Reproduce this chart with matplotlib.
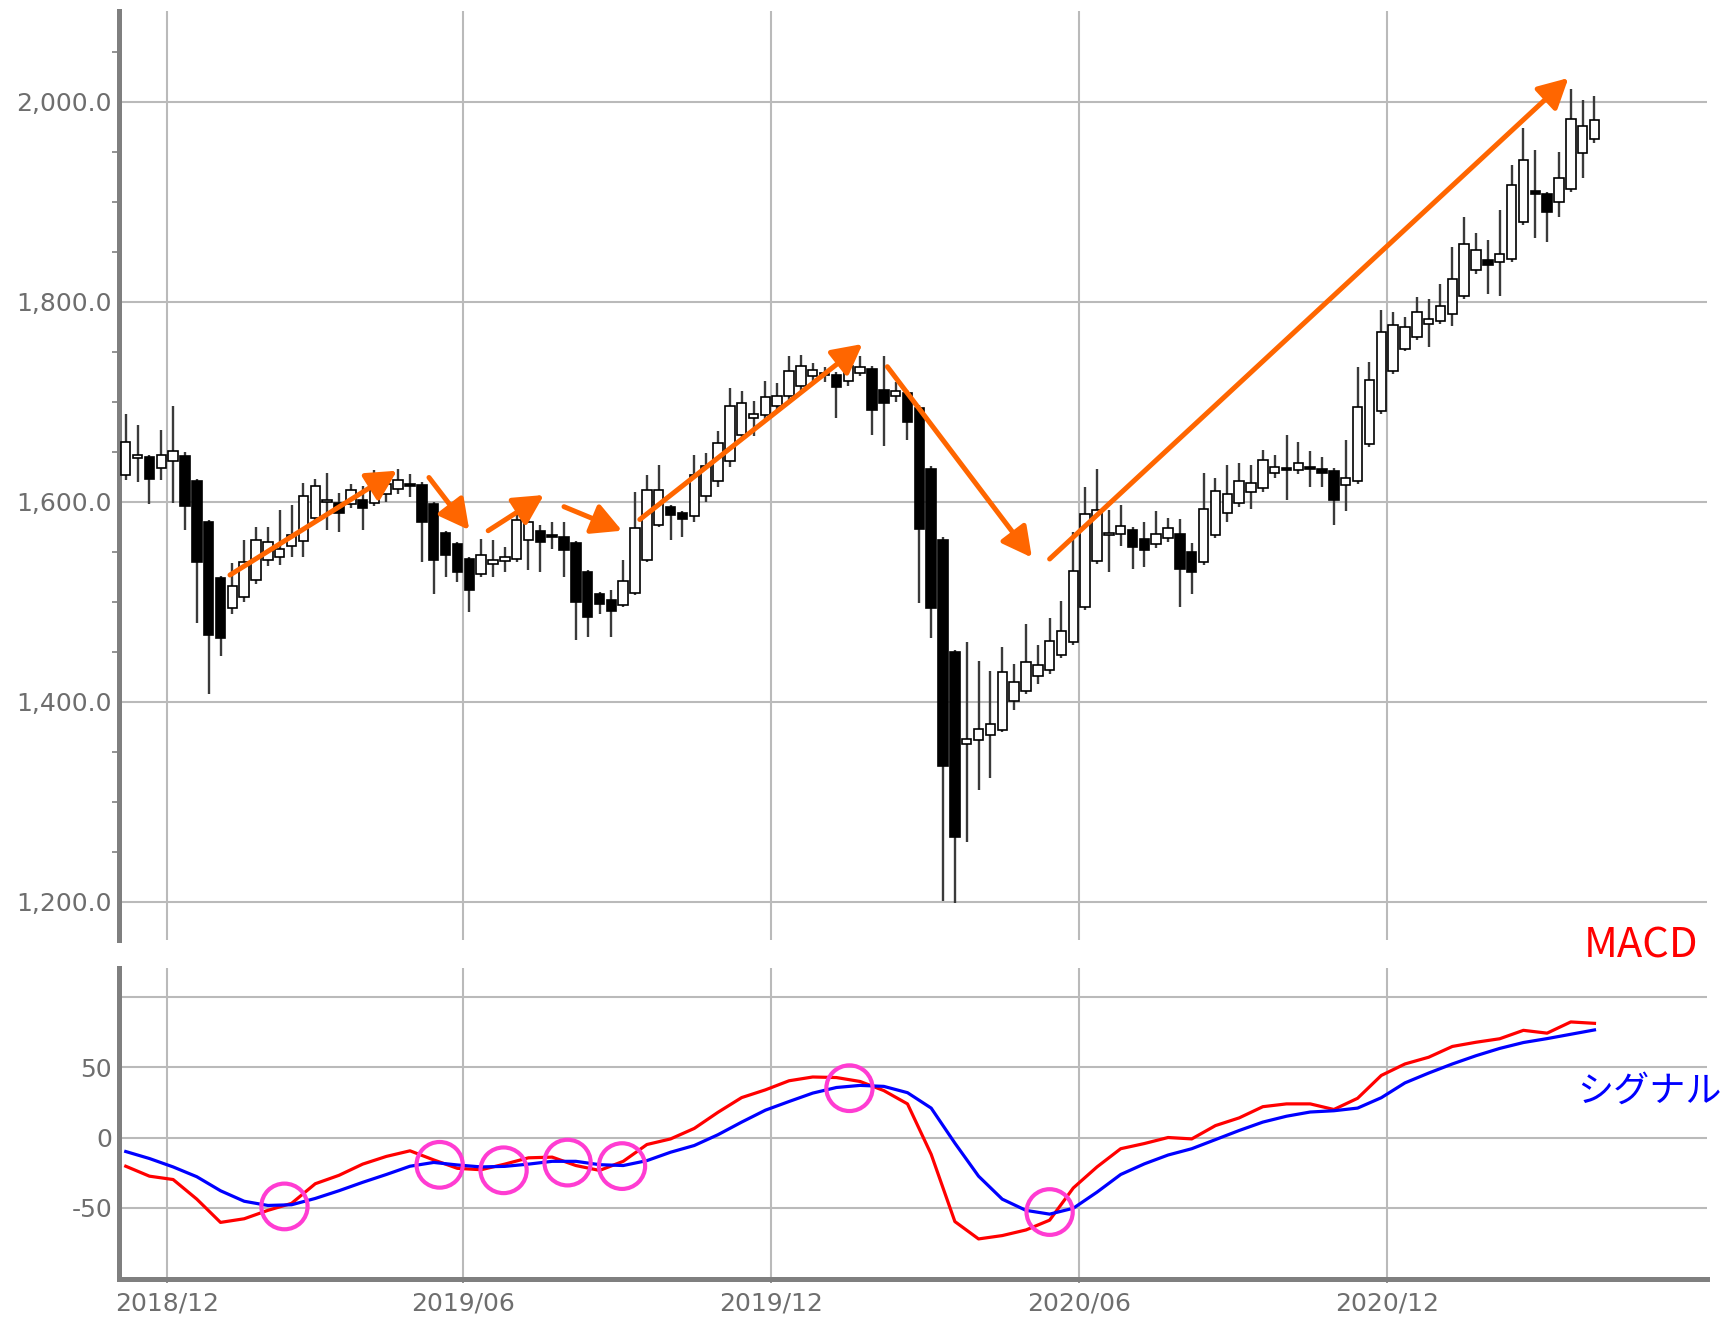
import numpy as np
import pandas as pd
import matplotlib
matplotlib.use('Agg')
import matplotlib.pyplot as plt
from matplotlib.patches import Ellipse

# weekly bars (Friday of each week); Golden Week 2019 had no trading days
weeks = pd.date_range('2018-11-09', periods=126, freq='W-FRI')
weeks = weeks.drop(pd.Timestamp('2019-05-03'))

opens = [1627, 1644, 1645, 1634, 1641, 1646, 1621, 1580, 1524, 1494,
         1505, 1522, 1542, 1545, 1556, 1561, 1584, 1600, 1599, 1598,
         1602, 1599, 1608, 1613, 1617, 1617, 1598, 1569, 1558, 1543,
         1528, 1538, 1541, 1543, 1562, 1571, 1566, 1565, 1559, 1530,
         1508, 1502, 1497, 1509, 1542, 1577, 1595, 1589, 1586, 1606,
         1621, 1641, 1667, 1684, 1687, 1696, 1706, 1716, 1726, 1729,
         1727, 1721, 1729, 1733, 1712, 1706, 1709, 1694, 1633, 1562,
         1450, 1358, 1362, 1367, 1372, 1401, 1411, 1426, 1432, 1447,
         1460, 1495, 1541, 1567, 1568, 1572, 1563, 1558, 1564, 1568,
         1550, 1540, 1567, 1589, 1599, 1610, 1614, 1629, 1633, 1632,
         1635, 1633, 1631, 1617, 1621, 1658, 1691, 1731, 1753, 1765,
         1778, 1781, 1788, 1806, 1832, 1842, 1840, 1843, 1880, 1911,
         1908, 1900, 1913, 1949, 1963]
highs = [1688, 1677, 1647, 1672, 1696, 1650, 1623, 1582, 1526, 1539,
         1562, 1575, 1575, 1592, 1597, 1619, 1623, 1629, 1609, 1618,
         1616, 1632, 1628, 1633, 1628, 1620, 1600, 1571, 1560, 1545,
         1563, 1562, 1555, 1593, 1585, 1577, 1580, 1580, 1561, 1532,
         1510, 1512, 1542, 1610, 1627, 1637, 1597, 1591, 1647, 1649,
         1671, 1714, 1711, 1701, 1721, 1719, 1746, 1747, 1739, 1735,
         1730, 1742, 1746, 1736, 1746, 1720, 1712, 1697, 1636, 1565,
         1452, 1460, 1441, 1431, 1455, 1438, 1478, 1457, 1484, 1501,
         1570, 1615, 1633, 1592, 1597, 1575, 1580, 1591, 1584, 1583,
         1559, 1629, 1624, 1637, 1639, 1637, 1652, 1647, 1667, 1660,
         1651, 1645, 1634, 1662, 1735, 1740, 1792, 1790, 1785, 1805,
         1803, 1818, 1855, 1885, 1869, 1862, 1892, 1937, 1974, 1952,
         1910, 1950, 2013, 2002, 2006]
lows = [1622, 1620, 1598, 1622, 1599, 1572, 1479, 1408, 1446, 1488,
        1500, 1518, 1536, 1537, 1545, 1545, 1580, 1572, 1570, 1594,
        1572, 1596, 1600, 1608, 1605, 1540, 1508, 1525, 1520, 1490,
        1525, 1525, 1530, 1540, 1532, 1530, 1553, 1525, 1462, 1465,
        1488, 1465, 1495, 1507, 1540, 1575, 1562, 1565, 1580, 1600,
        1615, 1635, 1663, 1666, 1683, 1690, 1700, 1710, 1720, 1720,
        1684, 1716, 1726, 1667, 1656, 1700, 1662, 1499, 1464, 1201,
        1199, 1260, 1312, 1324, 1370, 1392, 1408, 1418, 1428, 1444,
        1457, 1492, 1538, 1530, 1556, 1533, 1535, 1554, 1560, 1495,
        1508, 1537, 1564, 1580, 1595, 1593, 1610, 1624, 1602, 1628,
        1615, 1615, 1577, 1591, 1618, 1655, 1688, 1728, 1751, 1762,
        1755, 1778, 1776, 1803, 1828, 1808, 1806, 1840, 1877, 1864,
        1860, 1885, 1910, 1924, 1959]
closes = [1660, 1647, 1623, 1647, 1651, 1596, 1540, 1467, 1464, 1516,
          1540, 1562, 1560, 1553, 1567, 1606, 1616, 1601, 1589, 1612,
          1594, 1618, 1618, 1622, 1616, 1580, 1542, 1547, 1530, 1512,
          1547, 1542, 1545, 1582, 1580, 1560, 1565, 1552, 1500, 1485,
          1498, 1491, 1521, 1574, 1612, 1612, 1587, 1583, 1627, 1636,
          1659, 1696, 1699, 1688, 1705, 1706, 1731, 1736, 1732, 1727,
          1715, 1736, 1735, 1692, 1699, 1711, 1680, 1573, 1494, 1336,
          1265, 1363, 1373, 1378, 1430, 1420, 1440, 1437, 1461, 1471,
          1531, 1588, 1592, 1568, 1576, 1555, 1552, 1568, 1574, 1533,
          1530, 1593, 1611, 1608, 1621, 1619, 1642, 1635, 1632, 1639,
          1633, 1629, 1602, 1624, 1695, 1722, 1770, 1777, 1775, 1790,
          1783, 1796, 1823, 1858, 1852, 1837, 1848, 1917, 1942, 1908,
          1890, 1924, 1983, 1976, 1982]

# MACD / signal read every second bar
macd_idx = list(range(0, 125, 2))
macd = [-20.5, -27.6, -30, -44, -60.6, -58, -52, -47, -33, -27,
        -19, -13.5, -9.5, -16, -22, -23, -19, -14.5, -14, -20,
        -23.5, -17, -5, -1, 6.5, 18, 28.5, 34, 40.5, 43.2,
        42.8, 40, 33.5, 24, -12, -60, -72.4, -70, -66, -59,
        -36, -21, -8, -4.3, 0, -1, 8.5, 14, 22, 24,
        24, 20, 28, 44.3, 52.5, 57.3, 65, 68, 70.5, 76.5,
        74.5, 82.5, 81.5]
signal = [-10, -15, -21, -28, -38, -45.5, -48.5, -48, -43.5, -38,
          -32, -26.4, -20.5, -17.8, -19.6, -21, -20.6, -19, -17, -17,
          -19.4, -20, -16.5, -10.5, -5.7, 2, 11, 19.5, 25.7, 31.7,
          35.7, 37.2, 36.5, 32, 21, -4, -27.6, -44, -52, -54.7,
          -50.5, -39, -26.4, -18.8, -12.5, -8, -1.5, 5, 11, 15.2,
          18.2, 19.1, 21, 28.4, 39, 46, 52.5, 58.4, 63.6, 67.8,
          70.6, 73.7, 76.8]

# trend arrows: (start bar, start price, end bar, end price)
arrows = [(8.8, 1526.5, 22.9, 1630.8),
          (25.6, 1624, 29.0, 1571.5),
          (30.6, 1570.8, 35.3, 1606.5),
          (37.0, 1594.8, 41.9, 1570.8),
          (43.4, 1582, 62.2, 1757.5),
          (64.3, 1734.8, 76.5, 1544),
          (78.0, 1542.5, 121.8, 2023.5)]
# circled crossings in the MACD panel: (bar, value)
marks = [(13.4, -49.2), (26.5, -19.5), (31.9, -23.4), (37.3, -17.9),
         (41.9, -20.4), (61.1, 35.2), (78.0, -53.2)]

grey = '#7f7f7f'
txt = '#6e6e6e'
grid = '#bababa'

x = np.arange(len(closes))
o = np.array(opens)
c = np.array(closes)
up = c >= o

# half-year gridlines sit between the last bar of May/Nov and the first of Jun/Dec
tick_pos = []
tick_lab = []
for i in range(1, len(weeks)):
    if weeks[i].month != weeks[i - 1].month and weeks[i].month in (6, 12):
        tick_pos.append(i - 0.5)
        tick_lab.append(weeks[i].strftime('%Y/%m'))

W, H = 1729, 1318
fig = plt.figure(figsize=(W / 100, H / 100), dpi=100)
ax1 = fig.add_axes([119 / W, 1 - 940 / H, 1588 / W, 929 / H])
ax2 = fig.add_axes([119 / W, 1 - 1279 / H, 1588 / W, 311 / H])

# candles
ax1.vlines(x, lows, highs, color='#3a3a3a', lw=1.7, zorder=2)
body_h = np.maximum(np.abs(c - o), 1.5)
ax1.bar(x, body_h, bottom=np.minimum(o, c), width=0.8,
        color=np.where(up, 'white', 'black'), edgecolor='black', lw=1.2, zorder=3)

for i0, p0, i1, p1 in arrows:
    ax1.annotate('', xy=(i1, p1), xytext=(i0, p0),
                 arrowprops=dict(arrowstyle='-|>,head_length=1.8,head_width=0.95',
                                 mutation_scale=10, color='#FF6600', lw=3.6,
                                 shrinkA=0, shrinkB=0), zorder=5)

ax1.set_xlim(-0.57, 133.5)
ax1.set_ylim(1161.5, 2090.5)
ax1.set_yticks(np.arange(1200, 2001, 200))
ax1.set_yticklabels([f'{v:,.1f}' for v in np.arange(1200, 2001, 200)])
ax1.set_yticks(np.arange(1250, 2051, 50), minor=True)
ax1.set_xticks(tick_pos)
ax1.tick_params(axis='x', length=0, labelbottom=False)
ax1.tick_params(axis='y', which='major', length=0, pad=5, labelsize=18, labelcolor=txt)
ax1.tick_params(axis='y', which='minor', length=5, width=1.2, color=grey)
ax1.grid(True, which='major', color=grid, lw=1.5)
ax1.set_axisbelow(True)
for s in ['top', 'right', 'bottom']:
    ax1.spines[s].set_visible(False)
ax1.spines['left'].set_color(grey)
ax1.spines['left'].set_linewidth(3.6)

# MACD panel
ax2.plot(macd_idx, macd, color='#FF0000', lw=2.3, zorder=3)
ax2.plot(macd_idx, signal, color='#0000FF', lw=2.3, zorder=3)
for mi, mv in marks:
    ax2.add_patch(Ellipse((mi, mv), 3.9, 32.6, fill=False, edgecolor='#FF3CD2', lw=3, zorder=4))

ax2.set_xlim(-0.57, 133.5)
ax2.set_ylim(-101, 121)
ax2.set_yticks([-50, 0, 50, 100])
ax2.set_yticklabels(['-50', '0', '50', ''])
ax2.set_xticks(tick_pos)
ax2.set_xticklabels(tick_lab)
ax2.tick_params(axis='y', length=0, pad=5, labelsize=18, labelcolor=txt)
ax2.tick_params(axis='x', length=3, width=1.2, color=grey, pad=6, labelsize=18, labelcolor=txt)
ax2.grid(True, color=grid, lw=1.5)
ax2.set_axisbelow(True)
for s in ['top', 'right']:
    ax2.spines[s].set_visible(False)
for s in ['left', 'bottom']:
    ax2.spines[s].set_color(grey)
    ax2.spines[s].set_linewidth(3.6)

jp = ['Noto Sans CJK JP', 'DejaVu Sans']
fig.text(1698 / W, 1 - 946 / H, 'MACD', ha='right', va='center', color='#FF0000', fontsize=30, family=jp)
fig.text(1722 / W, 1 - 1092 / H, 'シグナル', ha='right', va='center', color='#0000FF', fontsize=26, family=jp)

fig.savefig('out.png', dpi=100)
